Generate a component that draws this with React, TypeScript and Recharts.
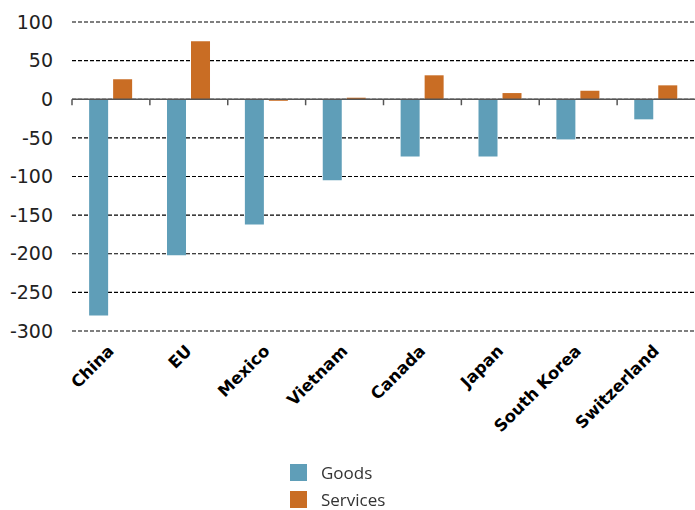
import { BarChart, Bar, XAxis, YAxis, CartesianGrid, Legend, ReferenceLine } from 'recharts';

const countries = ['China', 'EU', 'Mexico', 'Vietnam', 'Canada', 'Japan', 'South Korea', 'Switzerland'];
const goods = [-280, -202, -162, -105, -74, -74, -52, -26];
const services = [26, 75, -2, 2, 31, 8, 11, 18];
const yTicks = [-300, -250, -200, -150, -100, -50, 0, 50, 100];

const GOODS_COLOR = '#5f9eb8';
const SERVICES_COLOR = '#c96d24';

const data = countries.map((name, i) => ({ name, goods: goods[i], services: services[i] }));

const CountryTick = ({ x, y, payload }: { x: number; y: number; payload: { value: string } }) => (
  <text
    x={x + 4}
    y={y + 13}
    transform={`rotate(-45, ${x + 4}, ${y + 13})`}
    textAnchor="end"
    fontFamily="DejaVu Sans"
    fontWeight={700}
    fontSize={16.5}
    fill="#000"
  >
    {payload.value}
  </text>
);

// zero line with tick marks at category boundaries
const ZeroAxis = (props: { x1?: number; x2?: number; y1?: number }) => {
  const { x1 = 0, x2 = 0, y1 = 0 } = props;
  const step = (x2 - x1) / countries.length;
  return (
    <g>
      <line x1={x1} x2={x2} y1={y1} y2={y1} stroke="#555" strokeWidth={1.5} />
      {countries.map((c, i) => (
        <line key={c} x1={x1 + i * step} x2={x1 + i * step} y1={y1} y2={y1 + 6} stroke="#555" strokeWidth={1.5} />
      ))}
    </g>
  );
};

const LegendBox = () => (
  <div style={{ fontFamily: 'Open Sans', fontSize: 17, color: '#333', lineHeight: '27px' }}>
    {[
      { label: 'Goods', color: GOODS_COLOR },
      { label: 'Services', color: SERVICES_COLOR },
    ].map((item) => (
      <div key={item.label} style={{ display: 'flex', alignItems: 'center' }}>
        <span style={{ width: 17, height: 17, background: item.color, display: 'inline-block', marginRight: 14 }} />
        <span>{item.label}</span>
      </div>
    ))}
  </div>
);

export default function App() {
  return (
    <div style={{ position: 'fixed', left: 0, top: 0, background: '#fff' }}>
      <BarChart
        width={695}
        height={510}
        data={data}
        margin={{ top: 22, right: 0, left: 0, bottom: 0 }}
        barCategoryGap="22%"
        barGap={5}
      >
        <CartesianGrid vertical={false} stroke="#000" strokeWidth={1.2} strokeDasharray="4 2" />
        <XAxis
          dataKey="name"
          height={179}
          axisLine={false}
          tickLine={false}
          interval={0}
          tick={CountryTick}
        />
        <YAxis
          width={72}
          domain={[-300, 100]}
          ticks={yTicks}
          axisLine={false}
          tickLine={false}
          tickMargin={13}
          tick={{ fontFamily: 'DejaVu Sans', fontSize: 19, fill: '#222' }}
        />
        <Bar dataKey="goods" name="Goods" fill={GOODS_COLOR} isAnimationActive={false} />
        <Bar dataKey="services" name="Services" fill={SERVICES_COLOR} isAnimationActive={false} />
        <ReferenceLine y={0} shape={ZeroAxis} />
        <Legend
          layout="vertical"
          align="center"
          verticalAlign="middle"
          content={LegendBox}
          wrapperStyle={{ position: 'absolute', top: 459, left: 290, width: 'auto' }}
        />
      </BarChart>
    </div>
  );
}
